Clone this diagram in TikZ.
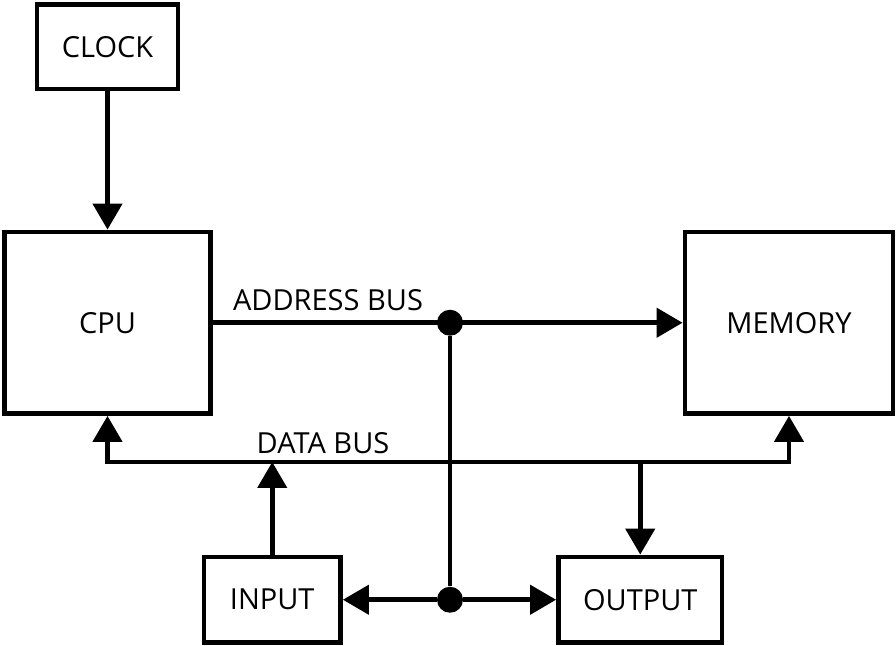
\documentclass[tikz,border=0pt]{standalone}
\usepackage{fontspec}
\setmainfont{Open Sans}
\usetikzlibrary{arrows.meta, positioning, calc}

\begin{document}
\begin{tikzpicture}[
    x=0.5pt, y=-0.5pt,
    box/.style={rectangle, draw=black, line width=2.4pt, fill=white, inner sep=0pt,
                minimum width=#1, align=center, font=\fontsize{14.5}{17}\selectfont},
    arrow/.style={-{Triangle[length=13pt, width=14.5pt]}, line width=2.25pt},
    twoway/.style={{Triangle[length=13pt, width=14.5pt]}-{Triangle[length=13pt, width=14.5pt]}, line width=2.25pt},
    wire/.style={line width=2.25pt},
    dot/.style={circle, fill=black, inner sep=0pt, minimum size=13pt},
    buslabel/.style={anchor=base, inner sep=0pt, font=\fontsize{14.5}{17}\selectfont},
]
\useasboundingbox (0,0) rectangle (896,646);

% ── Blocks ──
\node[box=70.5pt, minimum height=42.25pt] (clock) at (107.5,46.75) {CLOCK};
\node[box=103.25pt, minimum height=90.75pt] (cpu) at (107.5,322.75) {CPU};
\node[box=104pt, minimum height=90.75pt] (mem) at (789,322.75) {MEMORY};
\node[box=68.25pt, minimum height=42.75pt] (input) at (272.25,599.75) {INPUT};
\node[box=81.75pt, minimum height=42.75pt] (output) at (640.25,599.75) {OUTPUT};

% ── Junctions ──
\node[dot] (jtop) at (450,322.75) {};
\node[dot] (jbot) at (450,599.75) {};
\coordinate (databus) at (640,462);

% ── Arrows ──
\draw[arrow] (clock.south) -- (cpu.north);
\draw[arrow] (cpu.east) -- (mem.west);
\draw[wire] (jtop) -- (jbot);
\draw[arrow] (jbot) -- (input.east);
\draw[arrow] (jbot) -- (output.west);
\draw[twoway] (cpu.south) |- (databus) -| (mem.south);
\draw[arrow] (input.north) -- (input.north |- databus);
\draw[arrow] (output.north |- databus) -- (output.north);

% ── Labels ──
\node[buslabel] (addrlbl) at (328,311) {ADDRESS BUS};
\node[buslabel] (datalbl) at (323,454) {DATA BUS};

\end{tikzpicture}
\end{document}
